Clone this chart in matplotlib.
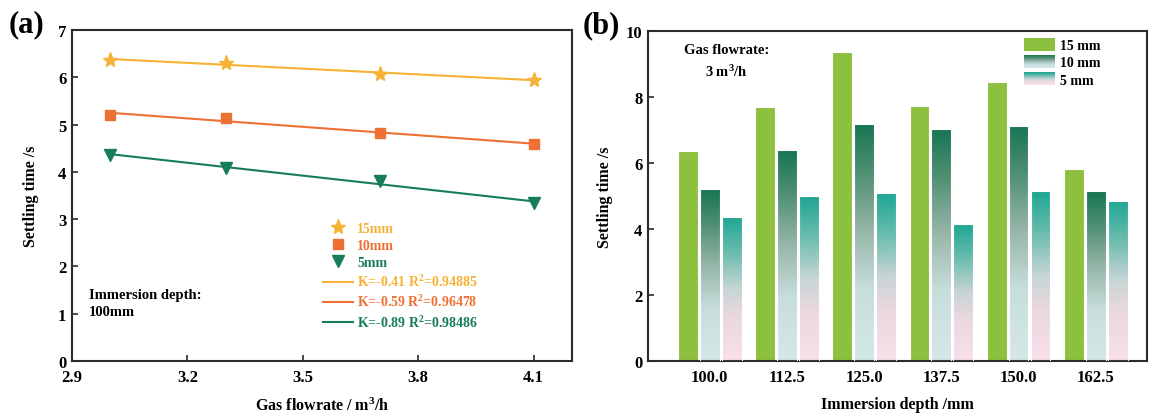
import numpy as np
import matplotlib
matplotlib.use("Agg")
import matplotlib.pyplot as plt
from matplotlib.colors import LinearSegmentedColormap
from matplotlib.patches import Rectangle, Patch
from matplotlib.legend_handler import HandlerBase

plt.rcParams['font.family'] = ['Liberation Serif', 'DejaVu Serif']
plt.rcParams['font.weight'] = 'bold'
plt.rcParams['mathtext.fontset'] = 'custom'
plt.rcParams['mathtext.rm'] = 'Liberation Serif:bold'
plt.rcParams['mathtext.bf'] = 'Liberation Serif:bold'
plt.rcParams['mathtext.it'] = 'Liberation Serif:bold'
plt.rcParams['mathtext.default'] = 'bf'

# ---------------- data: panel (a) ----------------
flowrate = [3.0, 3.3, 3.7, 4.1]
t_15mm = [6.36, 6.31, 6.08, 5.94]
t_10mm = [5.20, 5.14, 4.83, 4.58]
t_5mm = [4.36, 4.09, 3.80, 3.34]
fit_labels = ['K=-0.41 R$^2$=0.94885', 'K=-0.59 R$^2$=0.96478', 'K=-0.89 R$^2$=0.98486']
series_labels_a = ['15mm', '10mm', '5mm']
a_xticks = [2.9, 3.2, 3.5, 3.8, 4.1]

# ---------------- data: panel (b) ----------------
depths = [100.0, 112.5, 125.0, 137.5, 150.0, 162.5]
b_15mm = [6.37, 7.70, 9.36, 7.73, 8.46, 5.82]
b_10mm = [5.20, 6.39, 7.17, 7.03, 7.13, 5.15]
b_5mm = [4.36, 5.00, 5.08, 4.15, 5.15, 4.86]
series_labels_b = ['15 mm', '10 mm', '5 mm']

c15 = '#F5B234'
c10 = '#EE7033'
c5 = '#177D58'
green_bar = '#8DC03E'
cmap10 = LinearSegmentedColormap.from_list('c10', [(0, '#D4E8E7'), (0.3, '#C8DEDC'), (0.55, '#97B6A9'),
                                                    (0.8, '#4E8F72'), (1, '#177553')])
cmap5 = LinearSegmentedColormap.from_list('c5', [(0, '#F8E0EA'), (0.3, '#EBD8E0'), (0.5, '#C8D5D5'),
                                                  (0.75, '#6BBDAE'), (1, '#1FA693')])

fig = plt.figure(figsize=(11.49, 4.14), dpi=100)
axA = fig.add_axes([72/1149, 1-362/414, 500/1149, 331/414])
axB = fig.add_axes([648/1149, 1-362/414, 499/1149, 330/414])

spine_col = '#2b2b2b'
for ax in (axA, axB):
    for s in ax.spines.values():
        s.set_linewidth(1.5)
        s.set_color(spine_col)
    ax.tick_params(direction='in', length=4, width=1.2, labelsize=12, color=spine_col)
    ax.tick_params(axis='x', pad=6)
    ax.tick_params(axis='y', pad=4)
    ax.tick_params(top=False, right=False)

# ---------------- panel (a) ----------------
xs = np.array(flowrate)
handles_pts = []
handles_fit = []
for ys, col, mk, ms, lab in [(t_15mm, c15, '*', 11, series_labels_a[0]),
                             (t_10mm, c10, 's', 7, series_labels_a[1]),
                             (t_5mm, c5, 'v', 8, series_labels_a[2])]:
    h, = axA.plot(xs, ys, linestyle='none', marker=mk, markersize=ms, color=col, label=lab)
    handles_pts.append(h)
for ys, col, lab in [(t_15mm, c15, fit_labels[0]), (t_10mm, c10, fit_labels[1]), (t_5mm, c5, fit_labels[2])]:
    k, b = np.polyfit(xs, ys, 1)
    xx = np.array([xs.min(), xs.max()])
    h, = axA.plot(xx, k*xx + b, color=col, lw=1.5, label=lab)
    handles_fit.append(h)

axA.set_xlim(2.9, 4.2)
axA.set_ylim(0, 7)
axA.set_xticks(a_xticks)
axA.set_xticklabels([f'{v:.1f}' for v in a_xticks])
axA.set_yticks(range(0, 8))
axA.set_xlabel('Gas flowrate / m$^3$/h', fontsize=11.5, fontweight='bold', labelpad=8)
axA.set_ylabel('Settling time /s', fontsize=11.5, fontweight='bold', labelpad=14)

legA = axA.legend(handles_pts + handles_fit, [h.get_label() for h in handles_pts + handles_fit],
                  loc='upper left', bbox_to_anchor=(0.502, 0.42), frameon=False,
                  fontsize=10, handlelength=2.16, handletextpad=0.3, labelspacing=0.3,
                  borderpad=0, borderaxespad=0, numpoints=1)
for txt, col in zip(legA.get_texts(), [c15, c10, c5, c15, c10, c5]):
    txt.set_color(col)
    txt.set_fontweight('bold')

axA.text(0.034, 0.175, 'Immersion depth:\n100mm', transform=axA.transAxes, ha='left', va='center',
         fontsize=10.5, fontweight='bold', linespacing=1.35)

# ---------------- panel (b) ----------------
w = 3.2
off = 3.55
x = np.array(depths)
axB.bar(x - off, b_15mm, width=w, color=green_bar, edgecolor='white', linewidth=0.8, zorder=2)
grad = np.linspace(0, 1, 256).reshape(-1, 1)
for vals, cmap, dx in [(b_10mm, cmap10, 0.0), (b_5mm, cmap5, off)]:
    for xi, v in zip(x + dx, vals):
        rect = Rectangle((xi - w/2, 0), w, v, facecolor='none', edgecolor='white',
                         linewidth=0.8, zorder=3)
        axB.add_patch(rect)
        im = axB.imshow(grad, cmap=cmap, origin='lower', aspect='auto',
                        extent=(xi - w/2, xi + w/2, 0, v), zorder=2, interpolation='bilinear')
        im.set_clip_path(rect)

axB.set_xlim(90, 170.8)
axB.set_ylim(0, 10)
axB.set_xticks(depths)
axB.set_xticklabels([f'{d:.1f}' for d in depths])
axB.set_yticks([0, 2, 4, 6, 8, 10])
axB.set_xlabel('Immersion depth /mm', fontsize=11.5, fontweight='bold', labelpad=8)
axB.set_ylabel('Settling time /s', fontsize=11.5, fontweight='bold', labelpad=9)


class GradHandler(HandlerBase):
    def __init__(self, cmap, n=40):
        super().__init__()
        self.cmap = cmap
        self.n = n

    def create_artists(self, legend, orig_handle, xdescent, ydescent, width, height, fontsize, trans):
        arts = []
        for i in range(self.n):
            y0 = -ydescent + height * i / self.n
            r = Rectangle((-xdescent, y0), width, height / self.n * 1.05,
                          facecolor=self.cmap((i + 0.5) / self.n), edgecolor='none', transform=trans)
            arts.append(r)
        return arts


hb15 = Patch(facecolor=green_bar, edgecolor='none')
hb10 = Patch()
hb5 = Patch()
axB.legend([hb15, hb10, hb5], series_labels_b, loc='upper left', bbox_to_anchor=(0.7535, 0.979),
           frameon=False, fontsize=10, handlelength=2.2, handleheight=1.05, handletextpad=0.38,
           labelspacing=0.22, borderpad=0, borderaxespad=0,
           handler_map={hb10: GradHandler(cmap10), hb5: GradHandler(cmap5)})

axB.text(0.158, 0.945, 'Gas flowrate:', transform=axB.transAxes, ha='center', va='center',
         fontsize=10.5, fontweight='bold')
axB.text(0.158, 0.879, '3 m$^3$/h', transform=axB.transAxes, ha='center', va='center',
         fontsize=10.5, fontweight='bold')

fig.text(9/1149, 1-25/414, '(a)', ha='left', va='center', fontsize=22, fontweight='bold')
fig.text(583/1149, 1-26/414, '(b)', ha='left', va='center', fontsize=22, fontweight='bold')

fig.savefig('out.png', dpi=100)
